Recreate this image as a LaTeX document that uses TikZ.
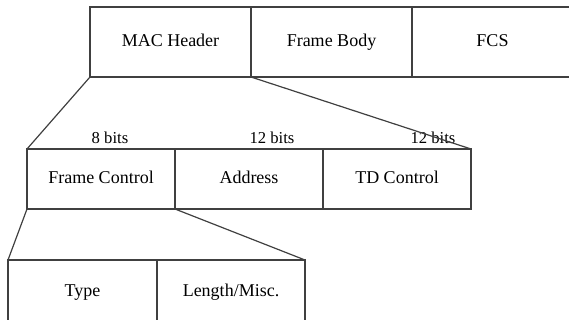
\documentclass[tikz,border=0pt]{standalone}
\usepackage{fontspec}
\setmainfont{Liberation Serif}
\usetikzlibrary{shapes}

\tikzset{
  field/.style={shape=rectangle,draw=black!75,align=center,line width=1pt,inner sep=0pt,outer sep=0pt,text height=9.5pt,text depth=3pt,font=\fontsize{13.5}{16}\selectfont},
  bits/.style={align=center,inner sep=0pt,text height=9pt,text depth=0pt,font=\fontsize{12.5}{15}\selectfont},
  zoomline/.style={-,draw=black!75,line width=0.9pt}
}

\begin{document}
\begin{tikzpicture}[x=0.75pt,y=-0.75pt]
\useasboundingbox (0,0) rectangle (569,320);
\node[field,minimum width=120.75pt,minimum height=52.5pt] (0) at (170.5,42) {MAC Header};
\node[field,minimum width=120.75pt,minimum height=52.5pt] (1) at (331.5,42) {Frame Body};
\node[field,minimum width=120.75pt,minimum height=52.5pt] (2) at (492.5,42) {FCS};
\node[field,minimum width=111pt,minimum height=45pt] (3) at (101,179) {Frame Control};
\node[field,minimum width=111pt,minimum height=45pt] (4) at (249,179) {Address};
\node[field,minimum width=111pt,minimum height=45pt] (5) at (397,179) {TD Control};
\node[field,minimum width=111.75pt,minimum height=48pt] (6) at (82.5,292) {Type};
\node[field,minimum width=111pt,minimum height=48pt] (7) at (231,292) {Length/Misc.};

\node[bits] (8) at (110,138) {8 bits};
\node[bits] (9) at (272,138) {12 bits};
\node[bits] (10) at (433,138) {12 bits};

\path [zoomline] (0.south west) edge node {} (3.north west);
\path [zoomline] (0.south east) edge node {} (5.north east);
\path [zoomline] (3.south west) edge node {} (6.north west);
\path [zoomline] (3.south east) edge node {} (7.north east);
\end{tikzpicture}
\end{document}
